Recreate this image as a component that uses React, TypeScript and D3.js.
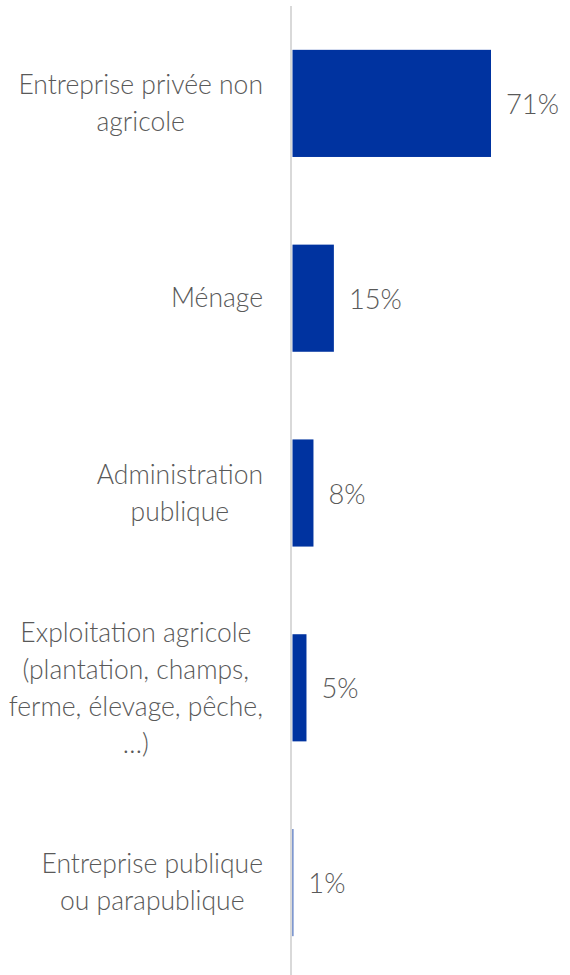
import React from "react";
import * as d3 from "d3";

const categories: string[][] = [
  ["Entreprise privée non", "agricole"],
  ["Ménage"],
  ["Administration", "publique"],
  ["Exploitation agricole", "(plantation, champs,", "ferme, élevage, pêche,", "…)"],
  ["Entreprise publique", "ou parapublique"],
];
const values: number[] = [71, 14.8, 7.5, 5, 0.3];
const valueLabels: string[] = ["71%", "15%", "8%", "5%", "1%"];

const W = 570;
const H = 975;
const AXIS_X = 291;
const FONT = "Lato, 'Open Sans', sans-serif";
const TEXT_COLOR = "#595959";
const BAR_COLOR = "#0033A0";
const FS = 26.5;
const LH = 37;
const LABEL_RIGHT = 263;

let ctx: CanvasRenderingContext2D | null = null;
function measure(t: string): number {
  if (!ctx) {
    const c = document.createElement("canvas");
    ctx = c.getContext("2d");
  }
  if (!ctx) return t.length * FS * 0.5;
  ctx.font = `300 ${FS}px Lato`;
  return ctx.measureText(t).width;
}

export default function App() {
  const keys = categories.map((_, i) => String(i));
  const y = d3.scaleBand<string>().domain(keys).range([6, 980]).paddingInner(0.45).paddingOuter(0.225);
  const x = d3.scaleLinear().domain([0, 71]).range([AXIS_X + 1.5, AXIS_X + 1.5 + 198.5]);

  return (
    <svg width={W} height={H} style={{ position: "absolute", left: 0, top: 0 }} fontFamily={FONT}>
      <rect x={0} y={0} width={W} height={H} fill="#ffffff" />
      {values.map((v, i) => {
        const by = y(String(i))!;
        const bh = y.bandwidth();
        const cy = by + bh / 2;
        const lines = categories[i];
        const startY = cy - ((lines.length - 1) * LH) / 2;
        const blockW = Math.max(...lines.map(measure));
        const centerX = LABEL_RIGHT - blockW / 2;
        return (
          <g key={i}>
            <rect x={x(0)} y={by} width={x(v) - x(0)} height={bh} fill={BAR_COLOR} />
            <text
              x={x(v) + 15}
              y={cy + 1}
              dy="0.35em"
              fontSize={FS + 0.8}
              fontWeight={300}
              fill={TEXT_COLOR}
            >
              {valueLabels[i]}
            </text>
            <text textAnchor="middle" fontSize={FS} fontWeight={300} fill={TEXT_COLOR}>
              {lines.map((l, j) => (
                <tspan key={j} x={centerX} y={startY + j * LH} dy="0.35em">
                  {l}
                </tspan>
              ))}
            </text>
          </g>
        );
      })}
      <line x1={AXIS_X} x2={AXIS_X} y1={6} y2={H} stroke="#d9d9d9" strokeWidth={2} />
    </svg>
  );
}
